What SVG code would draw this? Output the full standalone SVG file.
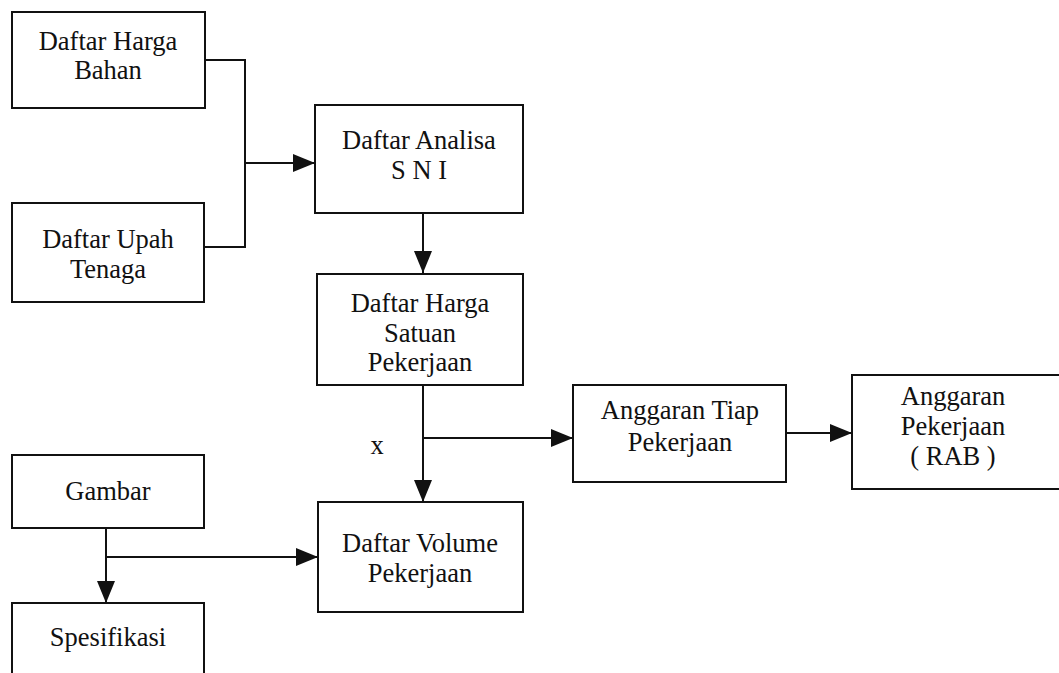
<svg xmlns="http://www.w3.org/2000/svg" width="1059" height="673" viewBox="0 0 1059 673">
<style>
.box{fill:#fff;stroke:#111;stroke-width:2}
.t{font-family:"Liberation Serif","Times New Roman",serif;font-size:26.5px;fill:#111;text-anchor:middle}
.c{fill:none;stroke:#111;stroke-width:2}
</style>
<defs>
<marker id="ah" markerUnits="userSpaceOnUse" markerWidth="24" markerHeight="20" refX="22" refY="9" orient="auto">
<path d="M0,0 L22,9 L0,18 Z" fill="#111"/>
</marker>
</defs>
<rect width="1059" height="673" fill="#fff"/>
<g id="connectors">
<polyline class="c" points="205,60 245,60 245,247 204,247"/>
<line class="c" x1="245" y1="163" x2="315" y2="163" marker-end="url(#ah)"/>
<line class="c" x1="423" y1="213" x2="423" y2="273" marker-end="url(#ah)"/>
<line class="c" x1="423" y1="385" x2="423" y2="502" marker-end="url(#ah)"/>
<line class="c" x1="423" y1="438" x2="573" y2="438" marker-end="url(#ah)"/>
<line class="c" x1="786" y1="433" x2="852" y2="433" marker-end="url(#ah)"/>
<line class="c" x1="106" y1="528" x2="106" y2="603" marker-end="url(#ah)"/>
<line class="c" x1="106" y1="557" x2="318" y2="557" marker-end="url(#ah)"/>
<text class="t" x="377" y="454">x</text>
</g>
<g id="harga-bahan">
<rect class="box" x="12" y="12" width="193" height="96"/>
<text class="t" x="108" y="50">Daftar Harga</text>
<text class="t" x="108" y="79">Bahan</text>
</g>
<g id="upah-tenaga">
<rect class="box" x="12" y="203" width="192" height="99"/>
<text class="t" x="108" y="248">Daftar Upah</text>
<text class="t" x="108" y="278">Tenaga</text>
</g>
<g id="analisa-sni">
<rect class="box" x="315" y="105" width="208" height="108"/>
<text class="t" x="419" y="149">Daftar Analisa</text>
<text class="t" x="419" y="179">S N I</text>
</g>
<g id="harga-satuan">
<rect class="box" x="317" y="274" width="206" height="111"/>
<text class="t" x="420" y="312">Daftar Harga</text>
<text class="t" x="420" y="342">Satuan</text>
<text class="t" x="420" y="371">Pekerjaan</text>
</g>
<g id="anggaran-tiap">
<rect class="box" x="573" y="385" width="213" height="97"/>
<text class="t" x="680" y="419">Anggaran Tiap</text>
<text class="t" x="680" y="451">Pekerjaan</text>
</g>
<g id="rab">
<rect class="box" x="852" y="375" width="210" height="114"/>
<text class="t" x="953" y="405">Anggaran</text>
<text class="t" x="953" y="435">Pekerjaan</text>
<text class="t" x="953" y="465">( RAB )</text>
</g>
<g id="gambar">
<rect class="box" x="12" y="455" width="192" height="73"/>
<text class="t" x="108" y="500">Gambar</text>
</g>
<g id="spesifikasi">
<rect class="box" x="12" y="603" width="192" height="80"/>
<text class="t" x="108" y="646">Spesifikasi</text>
</g>
<g id="volume">
<rect class="box" x="318" y="502" width="205" height="110"/>
<text class="t" x="420" y="552">Daftar Volume</text>
<text class="t" x="420" y="582">Pekerjaan</text>
</g>
</svg>
